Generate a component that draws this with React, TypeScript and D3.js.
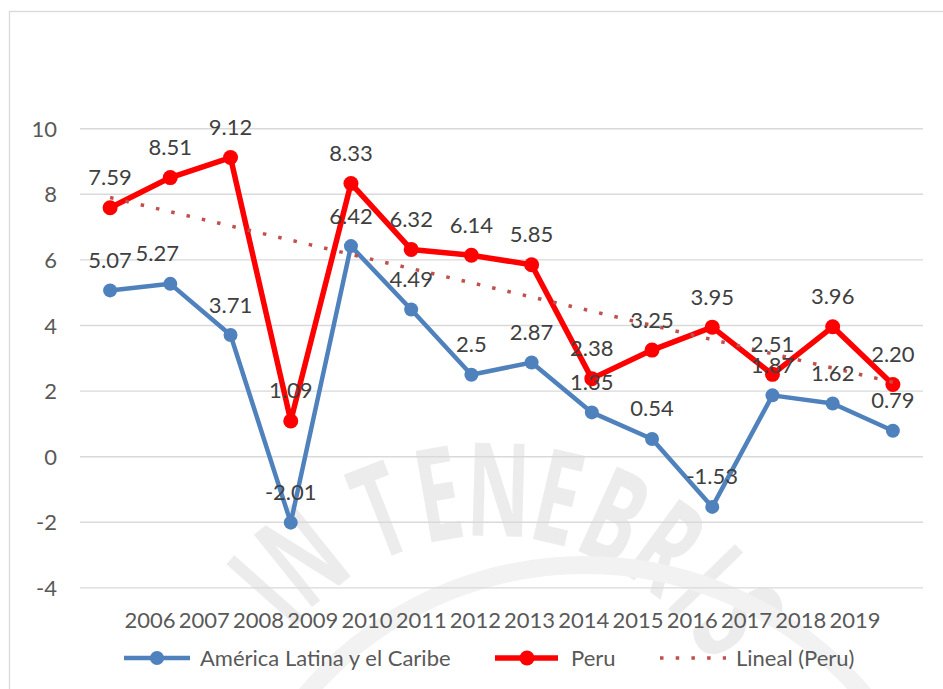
import React from 'react';
import * as d3 from 'd3';

const years = ['2006', '2007', '2008', '2009', '2010', '2011', '2012', '2013', '2014', '2015', '2016', '2017', '2018', '2019'];
const latam = [5.07, 5.27, 3.71, -2.01, 6.42, 4.49, 2.5, 2.87, 1.35, 0.54, -1.53, 1.87, 1.62, 0.79];
const peru = [7.59, 8.51, 9.12, 1.09, 8.33, 6.32, 6.14, 5.85, 2.38, 3.25, 3.95, 2.51, 3.96, 2.2];
const yTicks = [-4, -2, 0, 2, 4, 6, 8, 10];
const seriesNames = ['América Latina y el Caribe', 'Peru', 'Lineal (Peru)'];
const watermark = 'LUX IN TENEBRIS LUCET';

const BLUE = '#4f81bd';
const RED = '#ff0000';
const TREND = '#c0504d';
const FONT = 'Lato, "Open Sans", sans-serif';
const FS = 22;

export default function App() {
  const W = 943, H = 689;
  const plot = { left: 80, right: 923, top: 128.7, bottom: 587.9 };
  const x = d3.scaleBand<string>().domain(years).range([plot.left, plot.right]);
  const cx = (yr: string) => (x(yr) as number) + x.bandwidth() / 2;
  const y = d3.scaleLinear().domain([-4, 10]).range([plot.bottom, plot.top]);
  const xLab = d3.scalePoint<string>().domain(years).range([150, 855]);

  const line = d3.line<number>().x((_, i) => cx(years[i])).y((v) => y(v));

  // linear trend (least squares) for Peru
  const idx = peru.map((_, i) => i + 1);
  const mx = d3.mean(idx) as number;
  const my = d3.mean(peru) as number;
  const sxy = d3.sum(idx.map((t, i) => (t - mx) * (peru[i] - my)));
  const sxx = d3.sum(idx.map((t) => (t - mx) ** 2));
  const slope = sxy / sxx;
  const trend = (t: number) => my + slope * (t - mx);

  // watermark letters along an arc (only those fully inside the picture)
  const wCenter = { x: 490, y: 790 };
  const step = 11.5;
  const widths = watermark.split('').map((c) => (c === ' ' ? 0.5 : c === 'I' ? 0.7 : 1));
  let acc = 0;
  const centers = widths.map((w) => { const c = acc + w / 2; acc += w; return c; });
  const anchor = centers[9];
  const letters = watermark.split('')
    .map((c, i) => ({ c, i, a: (centers[i] - anchor) * step + 1.6 }))
    .filter((l) => l.c !== ' ' && l.i >= 4 && l.i <= 14);

  const latamDx: Record<number, number> = { 1: -13 };

  const legendY = 658;

  return (
    <svg width={W} height={H} style={{ position: 'absolute', left: 0, top: 0, background: '#fff' }} fontFamily={FONT}>
      <rect x={0} y={0} width={W} height={H} fill="#fff" />
      {/* watermark */}
      <g fill="#ececec" fontFamily='"Open Sans", sans-serif' fontWeight={700} fontSize={130}>
        {letters.map((l) => (
          <text key={l.i} textAnchor="middle" dominantBaseline="central"
            transform={`translate(${wCenter.x},${wCenter.y}) rotate(${l.a}) translate(0,-305) scale(0.6,1)`}>{l.c}</text>
        ))}
      </g>
      <circle cx={585} cy={930} r={365} fill="none" stroke="#f2f2f2" strokeWidth={18} />
      {/* border */}
      <rect x={9.5} y={11.5} width={1200} height={1200} fill="none" stroke="#d9d9d9" strokeWidth={1.3} />
      {/* grid */}
      {yTicks.map((t) => (
        <g key={t}>
          <line x1={plot.left} x2={plot.right} y1={y(t)} y2={y(t)} stroke="#d9d9d9" strokeWidth={1.4} />
          <text x={57} y={y(t) + 8} textAnchor="end" fontSize={FS} fill="#595959">{t}</text>
        </g>
      ))}
      {/* x labels */}
      {years.map((yr) => (
        <text key={yr} x={xLab(yr)} y={628} textAnchor="middle" fontSize={FS} fill="#595959">{yr}</text>
      ))}
      {/* series */}
      <path d={line(latam) || ''} fill="none" stroke={BLUE} strokeWidth={4.5} strokeLinejoin="round" />
      {latam.map((v, i) => <circle key={i} cx={cx(years[i])} cy={y(v)} r={7} fill={BLUE} />)}
      <path d={line(peru) || ''} fill="none" stroke={RED} strokeWidth={5.5} strokeLinejoin="round" />
      {peru.map((v, i) => <circle key={i} cx={cx(years[i])} cy={y(v)} r={7.5} fill={RED} />)}
      {/* trend */}
      <line x1={cx(years[0])} y1={y(trend(1))} x2={cx(years[years.length - 1])} y2={y(trend(years.length))}
        stroke={TREND} strokeWidth={3.5} strokeDasharray="3.5 12.2" />
      {/* labels */}
      {latam.map((v, i) => (
        <text key={'l' + i} x={cx(years[i]) + (latamDx[i] || 0)} y={y(v) - 22.5} textAnchor="middle" fontSize={FS} fill="#404040">{String(v)}</text>
      ))}
      {peru.map((v, i) => (
        <text key={'p' + i} x={cx(years[i])} y={y(v) - 22.5} textAnchor="middle" fontSize={FS} fill="#404040">{v.toFixed(2)}</text>
      ))}
      {/* legend */}
      <line x1={124} x2={190} y1={legendY} y2={legendY} stroke={BLUE} strokeWidth={4.5} />
      <circle cx={157} cy={legendY} r={7} fill={BLUE} />
      <text x={200} y={legendY + 7.5} fontSize={FS} fill="#595959">{seriesNames[0]}</text>
      <line x1={495} x2={558} y1={legendY} y2={legendY} stroke={RED} strokeWidth={5.5} />
      <circle cx={527} cy={legendY} r={7.5} fill={RED} />
      <text x={571} y={legendY + 7.5} fontSize={FS} fill="#595959">{seriesNames[1]}</text>
      <line x1={660} x2={726} y1={legendY} y2={legendY} stroke={TREND} strokeWidth={3.5} strokeDasharray="3.5 12.2" />
      <text x={736} y={legendY + 7.5} fontSize={FS} fill="#595959">{seriesNames[2]}</text>
    </svg>
  );
}
